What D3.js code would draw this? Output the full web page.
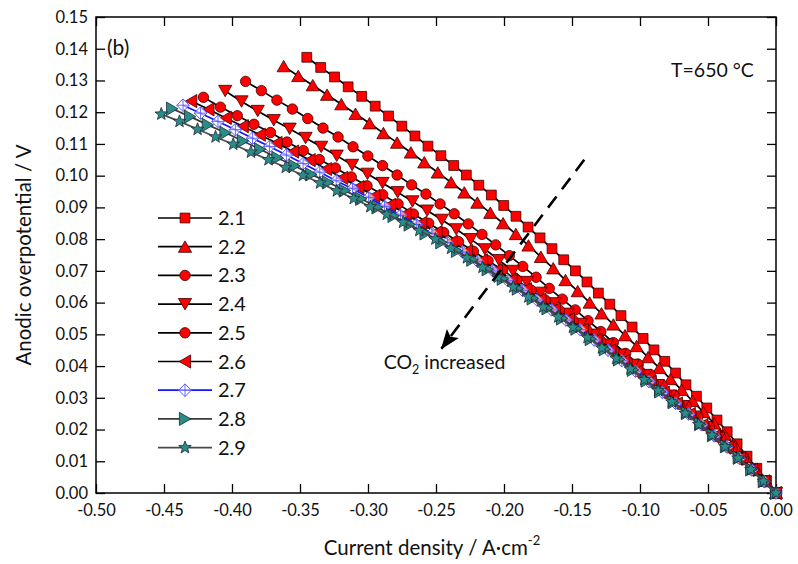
<!DOCTYPE html>
<html><head><meta charset="utf-8">
<script src="https://cdn.jsdelivr.net/npm/d3@7"></script>
<style>
body{margin:0;background:#fff}
svg{display:block}
text{font-family:Lato,'Open Sans',sans-serif;fill:#111}
</style>
</head><body>
<svg id="chart" width="798" height="564"></svg>
<script>
// ---------- data ----------
const seriesNames = ["2.1","2.2","2.3","2.4","2.5","2.6","2.7","2.8","2.9"];
const xTickValues = [-0.50,-0.45,-0.40,-0.35,-0.30,-0.25,-0.20,-0.15,-0.10,-0.05,0.00];
const xTickLabels = ["-0.50","-0.45","-0.40","-0.35","-0.30","-0.25","-0.20","-0.15","-0.10","-0.05","0.00"];
const yTickValues = [0,0.01,0.02,0.03,0.04,0.05,0.06,0.07,0.08,0.09,0.10,0.11,0.12,0.13,0.14,0.15];
const yTickLabels = ["0.00","0.01","0.02","0.03","0.04","0.05","0.06","0.07","0.08","0.09","0.10","0.11","0.12","0.13","0.14","0.15"];

const current_21 = [0,-0.0070,-0.0141,-0.0213,-0.0286,-0.0359,-0.0434,-0.0509,-0.0585,-0.0662,-0.0739,-0.0818,-0.0897,-0.0977,-0.1058,-0.1140,-0.1222,-0.1306,-0.1390,-0.1475,-0.1561,-0.1647,-0.1735,-0.1823,-0.1912,-0.2002,-0.2093,-0.2185,-0.2277,-0.2370,-0.2464,-0.2559,-0.2655,-0.2751,-0.2849,-0.2947,-0.3046,-0.3146,-0.3246,-0.3348,-0.3450];
const eta_21 = [0,0.0039,0.0078,0.0116,0.0155,0.0193,0.0230,0.0268,0.0305,0.0341,0.0378,0.0415,0.0451,0.0487,0.0523,0.0559,0.0595,0.0630,0.0665,0.0700,0.0735,0.0770,0.0804,0.0838,0.0872,0.0906,0.0939,0.0970,0.1002,0.1032,0.1063,0.1093,0.1125,0.1156,0.1188,0.1219,0.1250,0.1280,0.1311,0.1341,0.1373];

const current_22 = [0,-0.0074,-0.0148,-0.0224,-0.0300,-0.0377,-0.0455,-0.0534,-0.0614,-0.0694,-0.0776,-0.0858,-0.0941,-0.1025,-0.1110,-0.1196,-0.1283,-0.1370,-0.1458,-0.1548,-0.1638,-0.1729,-0.1820,-0.1913,-0.2007,-0.2101,-0.2196,-0.2292,-0.2389,-0.2487,-0.2586,-0.2685,-0.2786,-0.2887,-0.2989,-0.3092,-0.3196,-0.3301,-0.3406,-0.3513,-0.3620];
const eta_22 = [0,0.0038,0.0076,0.0113,0.0149,0.0184,0.0219,0.0255,0.0290,0.0325,0.0359,0.0394,0.0428,0.0463,0.0497,0.0531,0.0566,0.0600,0.0636,0.0671,0.0708,0.0744,0.0780,0.0816,0.0850,0.0883,0.0915,0.0947,0.0979,0.1010,0.1042,0.1073,0.1104,0.1134,0.1165,0.1195,0.1225,0.1255,0.1285,0.1314,0.1345];

const current_23 = [0,-0.0079,-0.0160,-0.0241,-0.0323,-0.0406,-0.0490,-0.0575,-0.0661,-0.0748,-0.0836,-0.0924,-0.1014,-0.1105,-0.1196,-0.1288,-0.1382,-0.1476,-0.1571,-0.1667,-0.1764,-0.1862,-0.1961,-0.2061,-0.2162,-0.2263,-0.2366,-0.2470,-0.2574,-0.2679,-0.2786,-0.2893,-0.3001,-0.3110,-0.3220,-0.3331,-0.3443,-0.3556,-0.3670,-0.3784,-0.3900];
const eta_23 = [0,0.0035,0.0070,0.0105,0.0140,0.0174,0.0208,0.0241,0.0275,0.0308,0.0340,0.0373,0.0406,0.0440,0.0474,0.0509,0.0543,0.0577,0.0611,0.0645,0.0680,0.0714,0.0748,0.0782,0.0815,0.0848,0.0880,0.0911,0.0942,0.0971,0.1002,0.1032,0.1062,0.1091,0.1122,0.1150,0.1180,0.1210,0.1238,0.1268,0.1297];

const current_24 = [0,-0.0083,-0.0166,-0.0250,-0.0336,-0.0422,-0.0509,-0.0597,-0.0687,-0.0777,-0.0868,-0.0960,-0.1053,-0.1147,-0.1242,-0.1338,-0.1435,-0.1533,-0.1632,-0.1731,-0.1832,-0.1934,-0.2037,-0.2140,-0.2245,-0.2351,-0.2457,-0.2565,-0.2673,-0.2782,-0.2893,-0.3004,-0.3117,-0.3230,-0.3344,-0.3459,-0.3576,-0.3693,-0.3811,-0.3930,-0.4050];
const eta_24 = [0,0.0036,0.0070,0.0105,0.0140,0.0174,0.0208,0.0241,0.0274,0.0307,0.0340,0.0372,0.0404,0.0436,0.0468,0.0499,0.0533,0.0565,0.0598,0.0631,0.0665,0.0700,0.0734,0.0768,0.0800,0.0831,0.0861,0.0890,0.0919,0.0948,0.0977,0.1006,0.1034,0.1063,0.1091,0.1119,0.1148,0.1175,0.1204,0.1234,0.1267];

const current_25 = [0,-0.0086,-0.0172,-0.0260,-0.0349,-0.0439,-0.0529,-0.0621,-0.0714,-0.0807,-0.0902,-0.0998,-0.1095,-0.1192,-0.1291,-0.1391,-0.1492,-0.1593,-0.1696,-0.1800,-0.1905,-0.2010,-0.2117,-0.2225,-0.2334,-0.2443,-0.2554,-0.2666,-0.2779,-0.2892,-0.3007,-0.3123,-0.3240,-0.3358,-0.3476,-0.3596,-0.3717,-0.3839,-0.3961,-0.4085,-0.4210];
const eta_25 = [0,0.0036,0.0072,0.0108,0.0143,0.0178,0.0213,0.0247,0.0280,0.0314,0.0347,0.0380,0.0415,0.0448,0.0480,0.0513,0.0544,0.0576,0.0608,0.0639,0.0671,0.0702,0.0732,0.0762,0.0792,0.0821,0.0850,0.0879,0.0911,0.0940,0.0968,0.0996,0.1024,0.1051,0.1079,0.1106,0.1136,0.1162,0.1189,0.1216,0.1247];

const current_26 = [0,-0.0088,-0.0176,-0.0266,-0.0356,-0.0448,-0.0541,-0.0634,-0.0729,-0.0825,-0.0921,-0.1019,-0.1118,-0.1218,-0.1319,-0.1421,-0.1523,-0.1627,-0.1732,-0.1838,-0.1945,-0.2053,-0.2162,-0.2272,-0.2383,-0.2496,-0.2609,-0.2723,-0.2838,-0.2954,-0.3071,-0.3190,-0.3309,-0.3429,-0.3551,-0.3673,-0.3796,-0.3921,-0.4046,-0.4173,-0.4300];
const eta_26 = [0,0.0037,0.0073,0.0109,0.0145,0.0180,0.0214,0.0249,0.0282,0.0316,0.0350,0.0383,0.0416,0.0450,0.0483,0.0515,0.0547,0.0579,0.0610,0.0642,0.0672,0.0703,0.0733,0.0763,0.0792,0.0822,0.0851,0.0880,0.0908,0.0936,0.0964,0.0993,0.1021,0.1049,0.1076,0.1103,0.1129,0.1156,0.1182,0.1209,0.1235];

const current_27 = [0,-0.0089,-0.0179,-0.0269,-0.0361,-0.0454,-0.0548,-0.0643,-0.0739,-0.0836,-0.0934,-0.1033,-0.1134,-0.1235,-0.1337,-0.1440,-0.1545,-0.1650,-0.1757,-0.1864,-0.1972,-0.2082,-0.2193,-0.2304,-0.2417,-0.2530,-0.2645,-0.2761,-0.2878,-0.2995,-0.3114,-0.3234,-0.3355,-0.3477,-0.3600,-0.3724,-0.3849,-0.3975,-0.4103,-0.4231,-0.4360];
const eta_27 = [0,0.0037,0.0073,0.0109,0.0145,0.0180,0.0215,0.0249,0.0283,0.0317,0.0351,0.0384,0.0417,0.0450,0.0482,0.0515,0.0545,0.0577,0.0608,0.0639,0.0669,0.0700,0.0730,0.0759,0.0789,0.0818,0.0846,0.0875,0.0903,0.0931,0.0959,0.0984,0.1011,0.1038,0.1065,0.1092,0.1118,0.1145,0.1171,0.1197,0.1222];

const current_28 = [0,-0.0090,-0.0182,-0.0274,-0.0368,-0.0463,-0.0558,-0.0655,-0.0753,-0.0852,-0.0951,-0.1052,-0.1154,-0.1258,-0.1362,-0.1467,-0.1573,-0.1680,-0.1789,-0.1898,-0.2009,-0.2120,-0.2233,-0.2346,-0.2461,-0.2577,-0.2694,-0.2812,-0.2930,-0.3050,-0.3171,-0.3294,-0.3417,-0.3541,-0.3666,-0.3793,-0.3920,-0.4048,-0.4178,-0.4308,-0.4440];
const eta_28 = [0,0.0037,0.0074,0.0111,0.0147,0.0182,0.0217,0.0252,0.0286,0.0320,0.0354,0.0388,0.0421,0.0453,0.0485,0.0518,0.0550,0.0582,0.0613,0.0644,0.0675,0.0705,0.0735,0.0763,0.0790,0.0818,0.0846,0.0873,0.0900,0.0927,0.0953,0.0979,0.1004,0.1031,0.1056,0.1083,0.1109,0.1135,0.1160,0.1186,0.1211];

const current_29 = [0,-0.0092,-0.0185,-0.0279,-0.0375,-0.0471,-0.0568,-0.0667,-0.0766,-0.0867,-0.0969,-0.1071,-0.1175,-0.1280,-0.1386,-0.1493,-0.1601,-0.1711,-0.1821,-0.1932,-0.2045,-0.2158,-0.2273,-0.2389,-0.2505,-0.2623,-0.2742,-0.2862,-0.2983,-0.3105,-0.3229,-0.3353,-0.3478,-0.3605,-0.3732,-0.3861,-0.3991,-0.4121,-0.4253,-0.4386,-0.4520];
const eta_29 = [0,0.0037,0.0074,0.0110,0.0146,0.0182,0.0216,0.0251,0.0287,0.0323,0.0357,0.0391,0.0424,0.0457,0.0490,0.0522,0.0555,0.0586,0.0618,0.0649,0.0680,0.0711,0.0741,0.0771,0.0800,0.0827,0.0853,0.0878,0.0902,0.0928,0.0952,0.0977,0.1001,0.1026,0.1050,0.1074,0.1099,0.1122,0.1146,0.1171,0.1194];

// annotation (data units)
const arrowFrom = [-0.141, 0.1050];
const arrowTo = [-0.246, 0.0455];
const annotationLabelPos = [-0.2885, 0.0390];

// ---------- layout / styles ----------
const plot = {left: 96, right: 776, top: 17, bottom: 493};
const svg = d3.select("#chart");
const x = d3.scaleLinear().domain([-0.5, 0]).range([plot.left, plot.right]);
const y = d3.scaleLinear().domain([0, 0.15]).range([plot.bottom, plot.top]);

const RED = "#ff0000", TEAL = "#2a8c86";
const styles = [
  {marker:"square",   fill:RED,  stroke:"#400000", line:"#000"},
  {marker:"triUp",    fill:RED,  stroke:"#400000", line:"#000"},
  {marker:"circle",   fill:RED,  stroke:"#400000", line:"#000"},
  {marker:"triDown",  fill:RED,  stroke:"#400000", line:"#000"},
  {marker:"circle",   fill:RED,  stroke:"#400000", line:"#000"},
  {marker:"triLeft",  fill:RED,  stroke:"#400000", line:"#000"},
  {marker:"diamondX", fill:"#ffffff", stroke:"#5a5aff", line:"#1414ff"},
  {marker:"triRight", fill:TEAL, stroke:"#1c2a3a", line:"#3a3a3a"},
  {marker:"star",     fill:TEAL, stroke:"#1c2a3a", line:"#4a4a4a"}
];
const currents = [current_21,current_22,current_23,current_24,current_25,current_26,current_27,current_28,current_29];
const etas = [eta_21,eta_22,eta_23,eta_24,eta_25,eta_26,eta_27,eta_28,eta_29];
const series = seriesNames.map((n,i)=>({name:n, pts:d3.zip(currents[i], etas[i]), st:styles[i]}));

function starPath(R, r){
  let p = "";
  for (let k=0;k<10;k++){
    const a = -Math.PI/2 + k*Math.PI/5;
    const rad = k%2===0 ? R : r;
    p += (k===0?"M":"L") + (rad*Math.cos(a)).toFixed(2) + "," + (rad*Math.sin(a)).toFixed(2);
  }
  return p + "Z";
}
function markerPath(type){
  switch(type){
    case "square": return "M-4.9,-4.9H4.9V4.9H-4.9Z";
    case "triUp": return "M0,-5.8L6.6,5.6L-6.6,5.6Z";
    case "triDown": return "M0,5.8L6.6,-5.6L-6.6,-5.6Z";
    case "triLeft": return "M-5.8,0L5.6,-6.6L5.6,6.6Z";
    case "triRight": return "M5.8,0L-5.6,-6.6L-5.6,6.6Z";
    case "circle": return "M5.2,0A5.2,5.2 0 1,1 -5.2,0A5.2,5.2 0 1,1 5.2,0Z";
    case "diamondX": return "M0,-6.3L6.3,0L0,6.3L-6.3,0Z";
    case "star": return starPath(6.6, 2.8);
  }
}
function drawMarker(g, type, st){
  g.append("path").attr("d", markerPath(type))
    .attr("fill", st.fill).attr("fill-opacity", type==="diamondX"?0.6:1)
    .attr("stroke", st.stroke).attr("stroke-width", type==="diamondX"?1:0.8);
  if (type==="diamondX"){
    g.append("path").attr("d","M0,-6.3V6.3M-6.3,0H6.3").attr("stroke", st.stroke).attr("stroke-width",0.9).attr("fill","none");
  }
}

// ---------- axes ----------
const axisFont = 16.5;
function styleAxis(g){
  g.select(".domain").remove();
  g.selectAll(".tick line").attr("stroke","#000").attr("stroke-width",1.3);
  g.selectAll(".tick text").attr("font-size",axisFont).attr("font-family","Lato,'Open Sans',sans-serif").attr("fill","#111");
}
svg.append("g").attr("transform",`translate(0,${plot.bottom})`)
  .call(d3.axisBottom(x).tickValues(xTickValues).tickFormat((d,i)=>xTickLabels[i]).tickSizeInner(-9).tickSizeOuter(0).tickPadding(11))
  .call(styleAxis);
svg.append("g").attr("transform",`translate(0,${plot.top})`)
  .call(d3.axisTop(x).tickValues(xTickValues).tickFormat("").tickSizeInner(-9).tickSizeOuter(0))
  .call(styleAxis);
svg.append("g").attr("transform",`translate(${plot.left},0)`)
  .call(d3.axisLeft(y).tickValues(yTickValues).tickFormat((d,i)=>yTickLabels[i]).tickSizeInner(-9).tickSizeOuter(0).tickPadding(8))
  .call(styleAxis);
svg.append("g").attr("transform",`translate(${plot.right},0)`)
  .call(d3.axisRight(y).tickValues(yTickValues).tickFormat("").tickSizeInner(-9).tickSizeOuter(0))
  .call(styleAxis);
svg.append("rect").attr("x",plot.left).attr("y",plot.top)
  .attr("width",plot.right-plot.left).attr("height",plot.bottom-plot.top)
  .attr("fill","none").attr("stroke","#000").attr("stroke-width",1.5);

// ---------- series ----------
const line = d3.line().x(d=>x(d[0])).y(d=>y(d[1]));
series.forEach(s=>{
  const g = svg.append("g");
  g.append("path").attr("d", line(s.pts)).attr("fill","none")
    .attr("stroke", s.st.line).attr("stroke-width",1.7);
  s.pts.forEach(p=>{
    const m = g.append("g").attr("transform",`translate(${x(p[0])},${y(p[1])})`);
    drawMarker(m, s.st.marker, s.st);
  });
});

// ---------- legend ----------
const leg = svg.append("g");
series.forEach((s,i)=>{
  const yy = 218 + i*28.7;
  leg.append("line").attr("x1",158).attr("x2",212).attr("y1",yy).attr("y2",yy)
    .attr("stroke", s.st.line).attr("stroke-width",1.7);
  const m = leg.append("g").attr("transform",`translate(185,${yy})`);
  drawMarker(m, s.st.marker, s.st);
  leg.append("text").attr("x",218).attr("y",yy+7).attr("font-size",20).text(s.name);
});

// ---------- annotation ----------
const defs = svg.append("defs");
defs.append("marker").attr("id","arrowHead").attr("markerUnits","userSpaceOnUse")
  .attr("viewBox","0 -8 20 16").attr("refX",19).attr("refY",0)
  .attr("markerWidth",20).attr("markerHeight",16).attr("orient","auto")
  .append("path").attr("d","M0,-7.5L20,0L0,7.5L4,0Z").attr("fill","#000");
const ax0 = x(arrowFrom[0]), ay0 = y(arrowFrom[1]), ax1 = x(arrowTo[0]), ay1 = y(arrowTo[1]);
svg.append("line").attr("x1",ax0).attr("y1",ay0).attr("x2",ax1).attr("y2",ay1)
  .attr("stroke","#000").attr("stroke-width",2.6).attr("stroke-dasharray","14,9")
  .attr("marker-end","url(#arrowHead)");
const co = svg.append("text").attr("x",x(annotationLabelPos[0])).attr("y",y(annotationLabelPos[1])).attr("font-size",19.5);
co.append("tspan").text("CO");
co.append("tspan").attr("font-size",12.5).attr("dy",5).text("2");
co.append("tspan").attr("dy",-5).text(" increased");

svg.append("text").attr("x",107).attr("y",55).attr("font-size",21).text("(b)");
svg.append("text").attr("x",671).attr("y",77).attr("font-size",19.5).text("T=650 °C");

// ---------- axis titles ----------
const xt = svg.append("text").attr("x",432).attr("y",555).attr("text-anchor","middle").attr("font-size",20.5);
xt.append("tspan").text("Current density / A·cm");
xt.append("tspan").attr("font-size",13).attr("dy",-10).text("-2");
svg.append("text").attr("transform","translate(31,255) rotate(-90)").attr("text-anchor","middle")
  .attr("font-size",20.5).text("Anodic overpotential / V");
</script>
</body></html>
